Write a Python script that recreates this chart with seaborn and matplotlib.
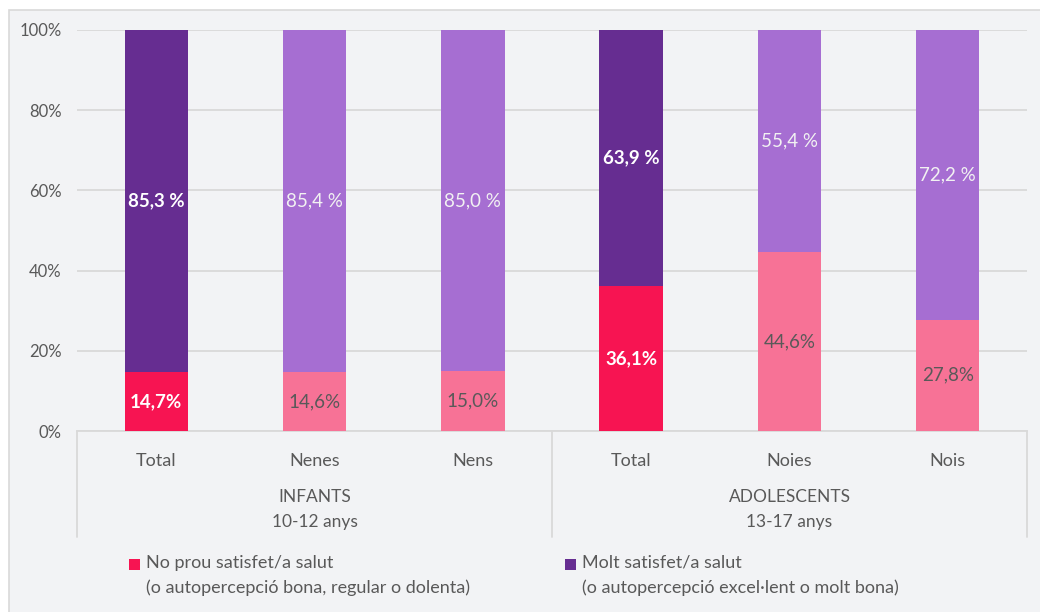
import matplotlib
matplotlib.use("Agg")
import matplotlib.pyplot as plt
import seaborn as sns
import pandas as pd
from matplotlib.patches import Rectangle

keys = ["inf_total", "inf_nenes", "inf_nens", "ado_total", "ado_noies", "ado_nois"]
tick_labels = ["Total", "Nenes", "Nens", "Total", "Noies", "Nois"]
no_prou = [14.7, 14.6, 15.0, 36.1, 44.6, 27.8]
molt = [85.3, 85.4, 85.0, 63.9, 55.4, 72.2]
no_prou_labels = ["14,7%", "14,6%", "15,0%", "36,1%", "44,6%", "27,8%"]
molt_labels = ["85,3 %", "85,4 %", "85,0 %", "63,9 %", "55,4 %", "72,2 %"]
groups = [("INFANTS", "10-12 anys"), ("ADOLESCENTS", "13-17 anys")]
legend_labels = [("No prou satisfet/a salut", "(o autopercepció bona, regular o dolenta)"),
                 ("Molt satisfet/a salut", "(o autopercepció excel·lent o molt bona)")]
is_total = [True, False, False, True, False, False]

DARK_PURPLE = "#662D91"
LIGHT_PURPLE = "#A66ED2"
DARK_PINK = "#F71452"
LIGHT_PINK = "#F77296"
GREY = "#595959"
BG = "#F2F3F5"

sns.set_theme(style="white")
plt.rcParams["font.family"] = ["Lato", "DejaVu Sans"]

df = pd.DataFrame({"key": keys, "no_prou": no_prou, "molt": molt})
df["total"] = df["no_prou"] + df["molt"]

top_colors = {k: (DARK_PURPLE if t else LIGHT_PURPLE) for k, t in zip(keys, is_total)}
bot_colors = {k: (DARK_PINK if t else LIGHT_PINK) for k, t in zip(keys, is_total)}

fig = plt.figure(figsize=(10.4, 6.12), dpi=100, facecolor="white")
bg_rect = Rectangle((9 / 1040, -0.1), 1.2, (612 - 10) / 612 + 0.1,
                    transform=fig.transFigure, facecolor=BG,
                    edgecolor="#D9D9D9", linewidth=1.2, zorder=-10)
fig.patches.append(bg_rect)
ax = fig.add_axes([77 / 1040, (612 - 431) / 612, 950 / 1040, 401 / 612])
ax.set_zorder(1)
ax.set_facecolor(BG)

sns.barplot(data=df, x="key", y="total", hue="key", palette=top_colors,
            order=keys, width=0.4, legend=False, ax=ax, saturation=1, zorder=3,
            linewidth=0, edgecolor="none")
sns.barplot(data=df, x="key", y="no_prou", hue="key", palette=bot_colors,
            order=keys, width=0.4, legend=False, ax=ax, saturation=1, zorder=3,
            linewidth=0, edgecolor="none")

ax.set_ylim(0, 100)
ax.set_xlim(-0.5, 5.5)
ax.set_yticks([0, 20, 40, 60, 80, 100])
ax.set_yticklabels([f"{v}%" for v in [0, 20, 40, 60, 80, 100]], color=GREY, fontsize=12)
ax.set_xticks(range(6))
ax.set_xticklabels(tick_labels, color=GREY, fontsize=13)
ax.tick_params(axis="x", length=0, pad=16)
ax.tick_params(axis="y", length=0, pad=11)
ax.set_xlabel("")
ax.set_ylabel("")
ax.yaxis.grid(True, color="#D9D9D9", linewidth=1.3, zorder=0)
ax.set_axisbelow(True)
for s in ["left", "right", "top"]:
    ax.spines[s].set_visible(False)
ax.spines["bottom"].set_color("#D9D9D9")
ax.spines["bottom"].set_linewidth(1.3)

# data labels
for i in range(6):
    b = no_prou[i]
    m = molt[i]
    if is_total[i]:
        kw_b = dict(color="white", fontweight="bold")
        kw_m = dict(color="white", fontweight="bold")
    else:
        kw_b = dict(color=GREY)
        kw_m = dict(color="#F2F2F2")
    ax.text(i, b / 2, no_prou_labels[i], ha="center", va="center", fontsize=13.5, zorder=5, **kw_b)
    ax.text(i, b + m / 2, molt_labels[i], ha="center", va="center", fontsize=13.5, zorder=5, **kw_m)

# group dividers and labels
ybot = -(537 - 431) / 401
for xd in [-0.5, 2.5, 5.5]:
    ax.plot([xd, xd], [0, ybot], transform=ax.get_xaxis_transform(), color="#D9D9D9",
            linewidth=1.3, clip_on=False)
for gi, (g1, g2) in enumerate(groups):
    xc = 1 + 3 * gi
    ax.text(xc, -(497 - 431) / 401, g1, transform=ax.get_xaxis_transform(),
            ha="center", va="center", color=GREY, fontsize=12.5)
    ax.text(xc, -(522 - 431) / 401, g2, transform=ax.get_xaxis_transform(),
            ha="center", va="center", color=GREY, fontsize=12.5)

# legend
leg_colors = [DARK_PINK, DARK_PURPLE]
leg_x = [129, 565]
for (l1, l2), c, lx in zip(legend_labels, leg_colors, leg_x):
    fig.patches.append(Rectangle((lx / 1040, 1 - 570 / 612), 11 / 1040, 11 / 612,
                                 transform=fig.transFigure, facecolor=c, edgecolor="none"))
    fig.text((lx + 17) / 1040, 1 - 563 / 612, l1, ha="left", va="center", color=GREY, fontsize=13)
    fig.text((lx + 17) / 1040, 1 - 588 / 612, l2, ha="left", va="center", color=GREY, fontsize=13)

fig.savefig("out.png", dpi=100, facecolor=fig.get_facecolor())
